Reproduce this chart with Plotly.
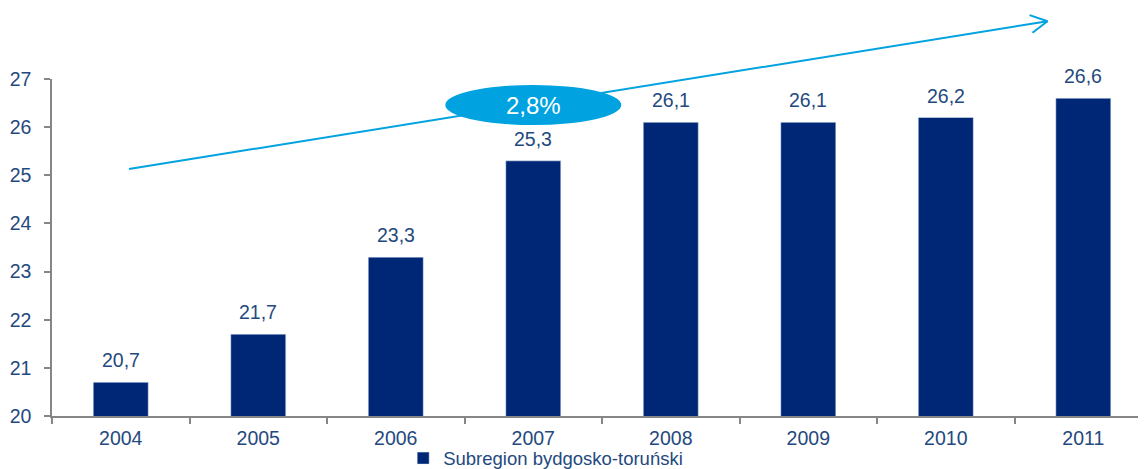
import plotly.graph_objects as go
import math

years = ["2004", "2005", "2006", "2007", "2008", "2009", "2010", "2011"]
values = [20.7, 21.7, 23.3, 25.3, 26.1, 26.1, 26.2, 26.6]
series_name = "Subregion bydgosko-toruński"
growth_label = "2,8%"

BAR = "#002776"
TXT = "#24497E"
CYAN = "#00A3E0"
AX = "#868686"
FONT = "Liberation Sans, Arial"
FS = 19.5

OFF = 8                      # page body margin of the browser
WIN_W, WIN_H = 1146, 469
W, H = WIN_W - OFF, WIN_H - OFF
# plot area in window pixels
PL, PR, PT, PB = 52, 1146, 79, 416
ML, MR, MT, MB = PL - OFF, WIN_W - PR, PT - OFF, WIN_H - PB
YMIN, YMAX = 20, 27
XMAX = 7.456
PW, PH = PR - PL, PB - PT

def px_x(i):
    return PL + (i + 0.5) / (XMAX + 0.5) * PW

def px_y(v):
    return PT + (YMAX - v) / (YMAX - YMIN) * PH

def paper(xp, yp):
    return (xp - PL) / PW, (PB - yp) / PH

fig = go.Figure()
fig.add_trace(go.Bar(
    x=years, y=values, name=series_name, marker_color=BAR, width=0.4,
))

ann = []
for i, v in enumerate(values):
    ann.append(dict(x=i, y=v, xref="x", yref="y", text=f"{v:.1f}".replace(".", ","),
                    showarrow=False, yanchor="bottom", yshift=9,
                    font=dict(size=FS, color=TXT, family=FONT)))

# trend arrow (in data units: category index, value)
a_start = (0.06, 25.13)
a_end = (6.74, 28.20)
x0p, y0p = px_x(a_start[0]), px_y(a_start[1])
x1p, y1p = px_x(a_end[0]), px_y(a_end[1])
ang = math.atan2(y1p - y0p, x1p - x0p)
shapes = []
sx0, sy0 = paper(x0p, y0p)
sx1, sy1 = paper(x1p, y1p)
shapes.append(dict(type="line", xref="paper", yref="paper", x0=sx0, y0=sy0, x1=sx1, y1=sy1,
                   line=dict(color=CYAN, width=2)))
for da in (math.radians(28), -math.radians(28)):
    ex = x1p - 19 * math.cos(ang + da)
    ey = y1p - 19 * math.sin(ang + da)
    px0, py0 = paper(ex, ey)
    shapes.append(dict(type="line", xref="paper", yref="paper", x0=px0, y0=py0, x1=sx1, y1=sy1,
                       line=dict(color=CYAN, width=2)))

# growth ellipse
ec, ev = 3.0, 26.46
shapes.append(dict(type="circle", xref="x", yref="y", x0=ec - 0.64, x1=ec + 0.64,
                   y0=ev - 0.415, y1=ev + 0.415, fillcolor=CYAN, line=dict(width=0)))
ann.append(dict(x=ec, y=ev, xref="x", yref="y", text=growth_label, showarrow=False,
                font=dict(size=24, color="white", family=FONT)))

fig.update_layout(
    width=W, height=H,
    margin=dict(l=ML, r=MR, t=MT, b=MB, pad=0, autoexpand=False),
    paper_bgcolor="white", plot_bgcolor="white",
    font=dict(family=FONT, size=FS, color=TXT),
    separators=", ",
    shapes=shapes, annotations=ann,
    showlegend=True,
    legend=dict(orientation="h", x=0.321, y=-0.07, xanchor="left", yanchor="top",
                font=dict(size=18.5, color=TXT), bgcolor="rgba(0,0,0,0)", itemwidth=30,
                tracegroupgap=0),
    bargap=0.6,
)
fig.update_xaxes(
    type="category", range=[-0.5, XMAX], showgrid=False, showline=True, linecolor=AX,
    linewidth=1.5, ticks="outside", tickson="boundaries", ticklen=6, tickcolor=AX,
    tickwidth=1.5, tickfont=dict(size=FS, color=TXT), fixedrange=True, automargin=False,
    ticklabelstandoff=4,
)
fig.update_yaxes(
    range=[YMIN, YMAX], dtick=1, showgrid=False, showline=True, linecolor=AX, linewidth=1.5,
    ticks="outside", ticklen=6, tickcolor=AX, tickwidth=1.5, zeroline=False,
    tickfont=dict(size=FS, color=TXT), ticklabelstandoff=9, automargin=False,
)
fig.write_html("out.html")
